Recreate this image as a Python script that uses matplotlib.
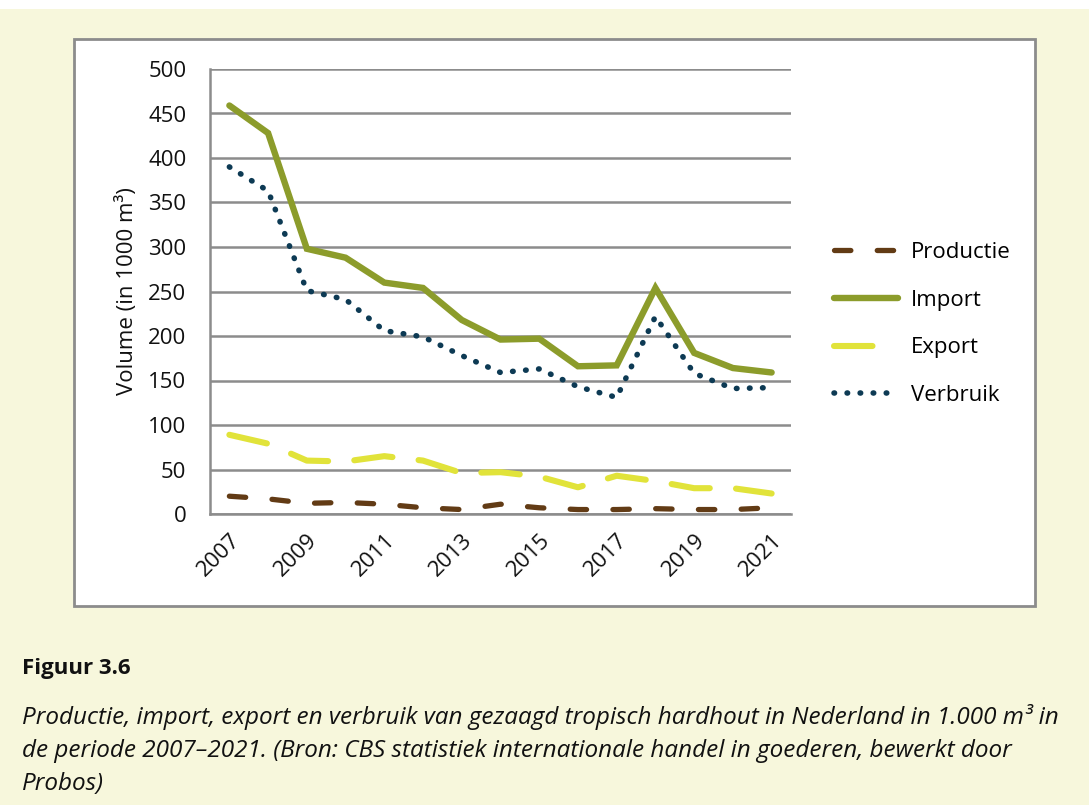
import numpy as np
import matplotlib.pyplot as plt
from matplotlib.patches import Rectangle

plt.rcParams["font.family"] = ["Open Sans", "DejaVu Sans"]

# ------------------------------------------------------------------
# Data (1000 m3)
# ------------------------------------------------------------------
years = list(range(2007, 2022))
productie = [20, 17, 12, 13, 11, 7, 5, 11, 7, 5, 5, 6, 5, 5, 7]
import_vol = [459, 428, 298, 288, 260, 254, 218, 196, 197, 166, 167, 254, 181, 164, 159]
export_vol = [89, 79, 60, 59, 65, 60, 46, 47, 42, 30, 43, 37, 29, 29, 23]
verbruik = [390, 363, 251, 241, 206, 199, 178, 159, 163, 143, 131, 222, 158, 141, 142]

y_ticks = list(range(0, 501, 50))

W, H = 1089, 805
CREAM = "#f7f7dc"
GRID = "#8c8c8c"

fig = plt.figure(figsize=(W / 100, H / 100), dpi=100, facecolor=CREAM)


def px(x, y):
    # pixel coords (top-left origin) -> figure fraction
    return x / W, 1 - y / H


# white strip at the very top and white chart box with grey border
fig.patches.append(Rectangle(px(0, 9), 1, 9 / H, transform=fig.transFigure,
                             facecolor="white", edgecolor="none", zorder=0))
x0, y0 = px(74, 606)
fig.patches.append(Rectangle((x0, y0), (1035 - 74) / W, (606 - 39) / H,
                             transform=fig.transFigure, facecolor="white",
                             edgecolor=GRID, linewidth=2, zorder=0))

l, b = px(210, 514)
ax = fig.add_axes([l, b, (791 - 210) / W, (514 - 69) / H])
ax.set_facecolor("none")
ax.set_zorder(2)

x = np.arange(len(years))
fs = 16

ax.plot(x, productie, color="#623b15", lw=3.8, dashes=(3.1, 5.0),
        dash_capstyle="round", solid_capstyle="round", label="Productie", zorder=3)
ax.plot(x, import_vol, color="#8c9c2b", lw=4.6, solid_capstyle="round",
        solid_joinstyle="miter", label="Import", zorder=3)
ax.plot(x, export_vol, color="#e1e33a", lw=4.4, dashes=(6.3, 4.3),
        dash_capstyle="round", label="Export", zorder=3)
ax.plot(x, verbruik, color="#0d3a54", lw=4.0, dashes=(0.1, 2.25),
        dash_capstyle="round", label="Verbruik", zorder=4)

ax.set_xlim(-0.5, len(years) - 0.5)
ax.set_ylim(0, 500)
ax.set_yticks(y_ticks)
ax.set_yticklabels([str(v) for v in y_ticks])
ax.set_xticks(x[::2])
ax.set_xticklabels([str(y) for y in years[::2]], rotation=45, ha="right",
                   rotation_mode="anchor")
ax.tick_params(axis="both", length=0, labelsize=fs, colors="#111111")
ax.tick_params(axis="y", pad=17)
ax.tick_params(axis="x", pad=11)

ax.grid(axis="y", color=GRID, lw=1.8)
ax.set_axisbelow(True)
for side in ("top", "right"):
    ax.spines[side].set_visible(False)
for side in ("left", "bottom"):
    ax.spines[side].set_color(GRID)
    ax.spines[side].set_linewidth(1.8)

ax.set_ylabel("Volume (in 1000 m³)", fontsize=fs, color="#111111", labelpad=7)

ax.legend(loc="center left", bbox_to_anchor=px(825, 324), bbox_transform=fig.transFigure,
          frameon=False, fontsize=fs, handlelength=2.9, handletextpad=0.55,
          labelspacing=1.2, borderaxespad=0)

# caption
fig.text(*px(22, 674), "Figuur 3.6", fontsize=16, fontweight="bold",
         color="#111111", va="baseline")
caption = [
    "Productie, import, export en verbruik van gezaagd tropisch hardhout in Nederland in 1.000 m³ in",
    "de periode 2007\u20132021. (Bron: CBS statistiek internationale handel in goederen, bewerkt door",
    "Probos)",
]
for i, line in enumerate(caption):
    fig.text(*px(22, 724 + 33 * i), line, fontsize=17.5, fontstyle="italic",
             color="#111111", va="baseline")

fig.savefig("out.png", dpi=100, facecolor=CREAM)
